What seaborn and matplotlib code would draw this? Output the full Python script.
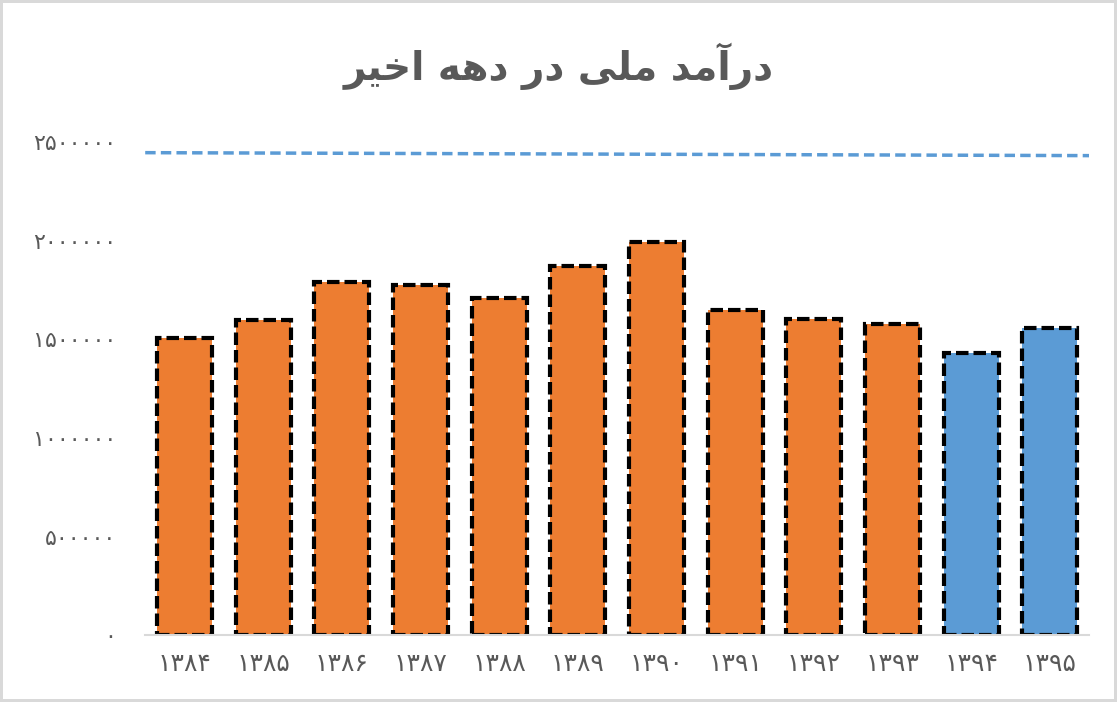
import matplotlib
matplotlib.use("Agg")
import matplotlib.pyplot as plt
import seaborn as sns
import pandas as pd

# داده‌ها
years = ["۱۳۸۴", "۱۳۸۵", "۱۳۸۶", "۱۳۸۷", "۱۳۸۸", "۱۳۸۹",
         "۱۳۹۰", "۱۳۹۱", "۱۳۹۲", "۱۳۹۳", "۱۳۹۴", "۱۳۹۵"]
income = [1506000, 1597000, 1790000, 1775000, 1709000, 1871000,
          1993000, 1648000, 1602000, 1577000, 1430000, 1557000]
group = ["past"] * 10 + ["recent"] * 2
ref_line = [2445000, 2430000]
y_ticks = [0, 500000, 1000000, 1500000, 2000000, 2500000]
title = "درآمد ملی در دهه اخیر"

# matplotlib شکل‌دهی عربی ندارد، پس حروف را دستی به شکل‌های ارائه تبدیل می‌کنیم
FORMS = {
    "ا": ("\uFE8D", "\uFE8E", None, None),
    "آ": ("\uFE81", "\uFE82", None, None),
    "د": ("\uFEA9", "\uFEAA", None, None),
    "ر": ("\uFEAD", "\uFEAE", None, None),
    "خ": ("\uFEA5", "\uFEA6", "\uFEA7", "\uFEA8"),
    "ل": ("\uFEDD", "\uFEDE", "\uFEDF", "\uFEE0"),
    "م": ("\uFEE1", "\uFEE2", "\uFEE3", "\uFEE4"),
    "ه": ("\uFEE9", "\uFEEA", "\uFEEB", "\uFEEC"),
    "ی": ("\uFBFC", "\uFBFD", "\uFBFE", "\uFBFF"),
}


def shape_word(word):
    out = []
    for i, ch in enumerate(word):
        iso, fin, ini, med = FORMS[ch]
        prev_joins = i > 0 and FORMS[word[i - 1]][2] is not None
        has_next = i < len(word) - 1
        if prev_joins and has_next and med:
            out.append(med)
        elif prev_joins:
            out.append(fin)
        elif has_next and ini:
            out.append(ini)
        else:
            out.append(iso)
    return "".join(reversed(out))


def rtl(text):
    return " ".join(shape_word(w) for w in reversed(text.split(" ")))


def fa_digits(n):
    return str(n).translate(str.maketrans("0123456789", "۰۱۲۳۴۵۶۷۸۹"))


df = pd.DataFrame({"year": years, "income": income, "group": group})

sns.set_style("white")
plt.rcParams["font.family"] = ["DejaVu Sans"]

fig = plt.figure(figsize=(11.17, 7.02), dpi=100)
fig.patch.set_edgecolor("#d9d9d9")
fig.patch.set_linewidth(3)
ax = fig.add_axes([0.13, 0.095, 0.845, 0.703])

sns.barplot(data=df, x="year", y="income", hue="group",
            palette={"past": "#ED7D31", "recent": "#5B9BD5"},
            saturation=1, width=0.7, dodge=False, legend=False, ax=ax)

for p in ax.patches:
    p.set_edgecolor("black")
    p.set_linestyle((0, (3, 1.2)))
    p.set_linewidth(3)

ax.set_xlim(-0.5, len(years) - 0.5)
ax.plot(ax.get_xlim(), ref_line, color="#5B9BD5", linestyle=(0, (3, 1.5)),
        linewidth=2.5, zorder=3)

ax.set_ylim(0, 2500000)
ax.set_yticks(y_ticks)
ax.set_yticklabels([fa_digits(v) for v in y_ticks])
ax.set_xlabel("")
ax.set_ylabel("")
ax.tick_params(axis="y", labelsize=16, labelcolor="#595959", length=0, pad=21)
ax.tick_params(axis="x", labelsize=18, labelcolor="#595959", length=0, pad=12)

for side in ["top", "right", "left"]:
    ax.spines[side].set_visible(False)
ax.spines["bottom"].set_color("#d9d9d9")
ax.spines["bottom"].set_linewidth(1.5)

fig.text(0.5, 0.905, rtl(title), ha="center", va="center",
         fontsize=28, fontweight="bold", color="#595959")

fig.savefig("out.png", dpi=100)
